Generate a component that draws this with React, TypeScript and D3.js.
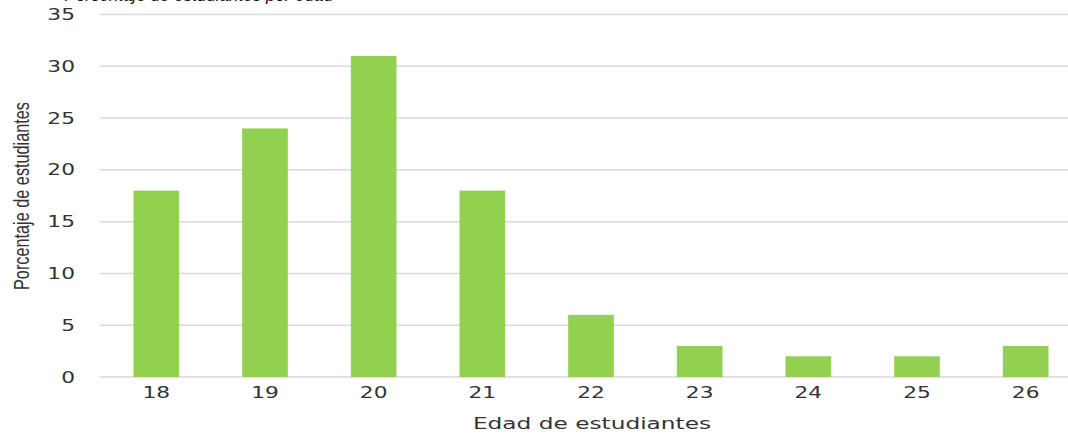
import React from "react";
import * as d3 from "d3";

const ages = ["18", "19", "20", "21", "22", "23", "24", "25", "26"];
const percentages = [18, 24, 31, 18, 6, 3, 2, 2, 3];
const yTicks = [0, 5, 10, 15, 20, 25, 30, 35];
const title = "Porcentaje de estudiantes por edad";
const yTitle = "Porcentaje de estudiantes";
const xTitle = "Edad de estudiantes";

const W = 1068;
const H = 434;
const font = "'DejaVu Sans', Verdana, sans-serif";
const titleFont = "'Liberation Sans', Arial, sans-serif";

export default function App() {
  const x = d3
    .scaleBand<string>()
    .domain(ages)
    .range([102, 1080])
    .paddingInner(0.58)
    .paddingOuter(0.29);
  const y = d3.scaleLinear().domain([0, 35]).range([377, 14.5]);
  const sx = 1.45;

  return (
    <svg
      width={W}
      height={H}
      style={{ position: "absolute", left: 0, top: 0, background: "#fff" }}
    >
      <text
        x={333}
        y={0.5}
        textAnchor="end"
        fontFamily={titleFont}
        fontStyle="italic"
        fontSize={17}
        fill="#111"
      >
        {title}
      </text>
      {yTicks.map((t) => (
        <line
          key={"g" + t}
          x1={100}
          x2={W}
          y1={y(t)}
          y2={y(t)}
          stroke="#d9d9d9"
          strokeWidth={1.5}
        />
      ))}
      {ages.map((a, i) => (
        <rect
          key={a}
          x={x(a)}
          y={y(percentages[i])}
          width={x.bandwidth()}
          height={y(0) - y(percentages[i])}
          fill="#92d050"
        />
      ))}
      {yTicks.map((t) => (
        <g key={"yl" + t} transform={`translate(75,${y(t) + 5.5}) scale(${sx},1)`}>
          <text textAnchor="end" fontFamily={font} fontSize={15} fill="#333">
            {t}
          </text>
        </g>
      ))}
      {ages.map((a) => (
        <g
          key={"xl" + a}
          transform={`translate(${(x(a) as number) + x.bandwidth() / 2},398) scale(${sx},1)`}
        >
          <text textAnchor="middle" fontFamily={font} fontSize={15} fill="#333">
            {a}
          </text>
        </g>
      ))}
      <g transform="translate(592,429) scale(1.5,1)">
        <text textAnchor="middle" fontFamily={font} fontSize={15.5} fill="#333">
          {xTitle}
        </text>
      </g>
      <g transform="translate(29,196) rotate(-90)">
        <text
          textAnchor="middle"
          fontFamily={titleFont}
          fontSize={16}
          fill="#333"
          textLength={188}
          lengthAdjust="spacingAndGlyphs"
          transform="scale(1,1.35)"
        >
          {yTitle}
        </text>
      </g>
    </svg>
  );
}
